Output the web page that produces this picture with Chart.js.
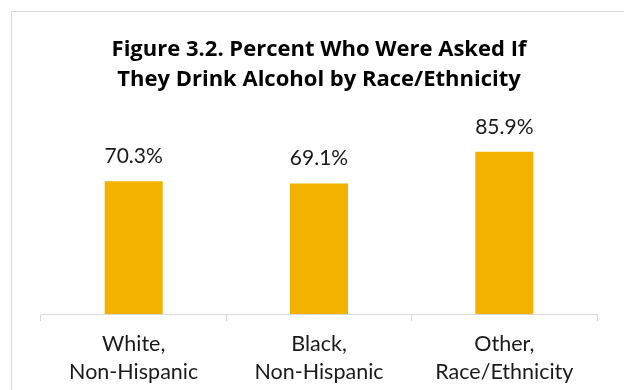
<!DOCTYPE html>
<html>
<head>
<meta charset="utf-8">
<script src="https://cdn.jsdelivr.net/npm/chart.js@4/dist/chart.umd.min.js"></script>
<style>
html,body{margin:0;padding:0;background:#fff;}
#chart{display:block;}
</style>
</head>
<body>
<canvas id="chart" width="624" height="390"></canvas>
<script>

const titleLines = [
"Figure 3.2. Percent Who Were Asked If",
"They Drink Alcohol by Race/Ethnicity"
];

const categories = [
["White,","Non-Hispanic"],
["Black,","Non-Hispanic"],
["Other,","Race/Ethnicity"]
];

const percentValues = [70.3, 69.1, 85.9];

const barColor = "#F4B200";
const lineGrey = "#D9D9D9";

// outer frame of the chart object
const framePlugin = {
id:"frame",
beforeDraw(chart){
const ctx = chart.ctx;
ctx.save();
ctx.fillStyle = "#fff";
ctx.fillRect(0,0,chart.width,chart.height);
ctx.strokeStyle = lineGrey;
ctx.lineWidth = 1;
ctx.strokeRect(11.5,11.5,chart.width+20,chart.height+20);
ctx.restore();
}
};

// value labels above each bar
const valueLabelPlugin = {
id:"valueLabels",
afterDatasetsDraw(chart){
const ctx = chart.ctx;
const meta = chart.getDatasetMeta(0);
ctx.save();
ctx.font = "21px Lato";
ctx.fillStyle = "#1a1a1a";
ctx.textAlign = "center";
ctx.textBaseline = "alphabetic";
meta.data.forEach((bar,i)=>{
ctx.fillText(
percentValues[i].toFixed(1)+"%",
bar.x,
bar.y-18
);
});
ctx.restore();
}
};

new Chart(
document.getElementById("chart"),
{
type:"bar",
data:{
labels:categories,
datasets:[{
data:percentValues,
backgroundColor:barColor,
borderWidth:0,
categoryPercentage:1,
barPercentage:0.313
}]
},
options:{
responsive:false,
animation:false,
devicePixelRatio:1,
layout:{
padding:{left:41,right:27,top:0,bottom:-5}
},
plugins:{
legend:{display:false},
tooltip:{enabled:false},
title:{
display:true,
text:titleLines,
color:"#000",
font:{family:"'Open Sans'",size:22,weight:"bold",lineHeight:1.364},
padding:{top:35,bottom:30}
}
},
scales:{
x:{
grid:{
display:true,
drawOnChartArea:false,
offset:true,
color:lineGrey,
tickLength:7,
lineWidth:1
},
border:{color:lineGrey,width:1},
ticks:{
color:"#1a1a1a",
font:{family:"Lato",size:21.5,lineHeight:1.3},
padding:9,
maxRotation:0,
autoSkip:false
}
},
y:{
display:false,
min:0,
max:100
}
}
},
plugins:[framePlugin,valueLabelPlugin]
}
);

</script>
</body>
</html>
